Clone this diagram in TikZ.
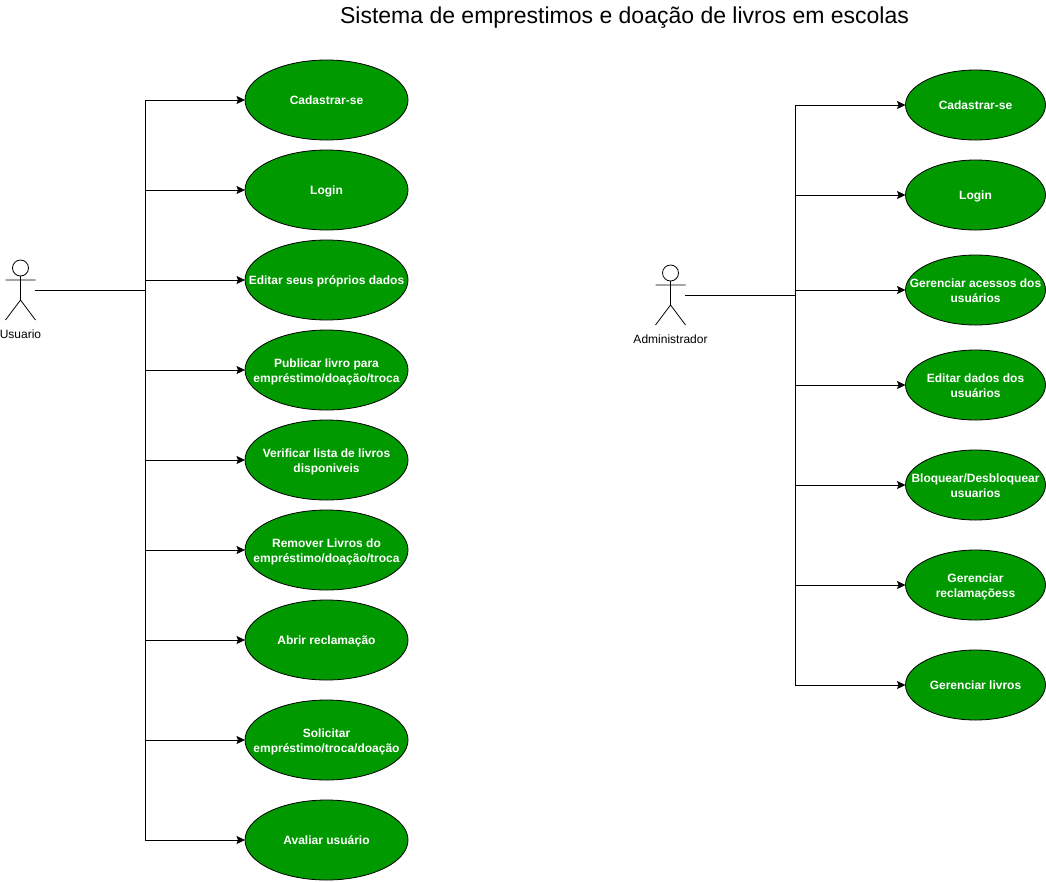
\documentclass[tikz,border=0pt]{standalone}
\usepackage{fontspec}
\setmainfont{Liberation Sans}
\usetikzlibrary{arrows.meta,shapes.geometric}
\definecolor{usegreen}{HTML}{009900}
% keep the text from widening the ellipse: its size is set by the style alone
\newcommand{\uctext}[1]{\raisebox{-4.5pt}[0pt][0pt]{\makebox[0pt]{\begin{tabular}{@{}c@{}}#1\end{tabular}}}}
\tikzset{
  usecase/.style={ellipse,draw=black,line width=0.8pt,fill=usegreen,text=white,inner sep=0pt,outer sep=0pt,font=\fontsize{12}{15}\selectfont\bfseries},
  usecaseL/.style={usecase,minimum width=163pt,minimum height=80pt},
  usecaseR/.style={usecase,minimum width=140pt,minimum height=70pt},
  link/.style={draw=black,line width=0.8pt,-{Stealth[length=8.5pt,width=8pt,inset=1.5pt]}},
  wire/.style={draw=black,line width=0.8pt},
  figure/.style={draw=black,line width=0.8pt},
  actorlabel/.style={font=\fontsize{12}{14}\selectfont,inner sep=0pt,text=black},
  titletext/.style={font=\fontsize{23}{27}\selectfont,inner sep=0pt,text=black}
}
\begin{document}
\begin{tikzpicture}[x=1pt,y=-1pt]
\useasboundingbox (0,0) rectangle (1046,881);
\node[titletext] (title) at (624.5,17.5) {Sistema de emprestimos e doação de livros em escolas};

% Usuario actor
\draw[figure] (20.5,268) circle (8);
\draw[figure] (20.5,276) -- (20.5,300) (5.5,280) -- (35.5,280) (5.5,320) -- (20.5,300) -- (35.5,320);
\node[actorlabel] (usuario) at (20.5,334) {Usuario};
\coordinate (uport) at (35,290);
\coordinate (ubus) at (145.5,290);

\node[usecaseL] (u1) at (326.5,100) {\uctext{Cadastrar-se}};
\node[usecaseL] (u2) at (326.5,190) {\uctext{Login}};
\node[usecaseL] (u3) at (326.5,280) {\uctext{Editar seus próprios dados}};
\node[usecaseL] (u4) at (326.5,370) {\uctext{Publicar livro para\\empréstimo/doação/troca}};
\node[usecaseL] (u5) at (326.5,460) {\uctext{Verificar lista de livros\\disponiveis}};
\node[usecaseL] (u6) at (326.5,550) {\uctext{Remover Livros do\\empréstimo/doação/troca}};
\node[usecaseL] (u7) at (326.5,640) {\uctext{Abrir reclamação}};
\node[usecaseL] (u8) at (326.5,740) {\uctext{Solicitar\\empréstimo/troca/doação}};
\node[usecaseL] (u9) at (326.5,840) {\uctext{Avaliar usuário}};

\draw[wire] (uport) -- (ubus);
\foreach \n in {u1,u2,u3,u4,u5,u6,u7,u8,u9}
  \draw[link] (ubus) |- (\n.west);

% Administrador actor
\draw[figure] (670.5,273) circle (8);
\draw[figure] (670.5,281) -- (670.5,305) (655.5,285) -- (685.5,285) (655.5,325) -- (670.5,305) -- (685.5,325);
\node[actorlabel] (admin) at (670.5,339) {Administrador};
\coordinate (aport) at (685,295);
\coordinate (abus) at (795.5,295);

\node[usecaseR] (a1) at (975.5,105) {\uctext{Cadastrar-se}};
\node[usecaseR] (a2) at (975.5,195) {\uctext{Login}};
\node[usecaseR] (a3) at (975.5,290) {\uctext{Gerenciar acessos dos\\usuários}};
\node[usecaseR] (a4) at (975.5,385) {\uctext{Editar dados dos\\usuários}};
\node[usecaseR] (a5) at (975.5,485) {\uctext{Bloquear/Desbloquear\\usuarios}};
\node[usecaseR] (a6) at (975.5,585) {\uctext{Gerenciar\\reclamaçõess}};
\node[usecaseR] (a7) at (975.5,685) {\uctext{Gerenciar livros}};

\draw[wire] (aport) -- (abus);
\foreach \n in {a1,a2,a3,a4,a5,a6,a7}
  \draw[link] (abus) |- (\n.west);
\end{tikzpicture}
\end{document}
